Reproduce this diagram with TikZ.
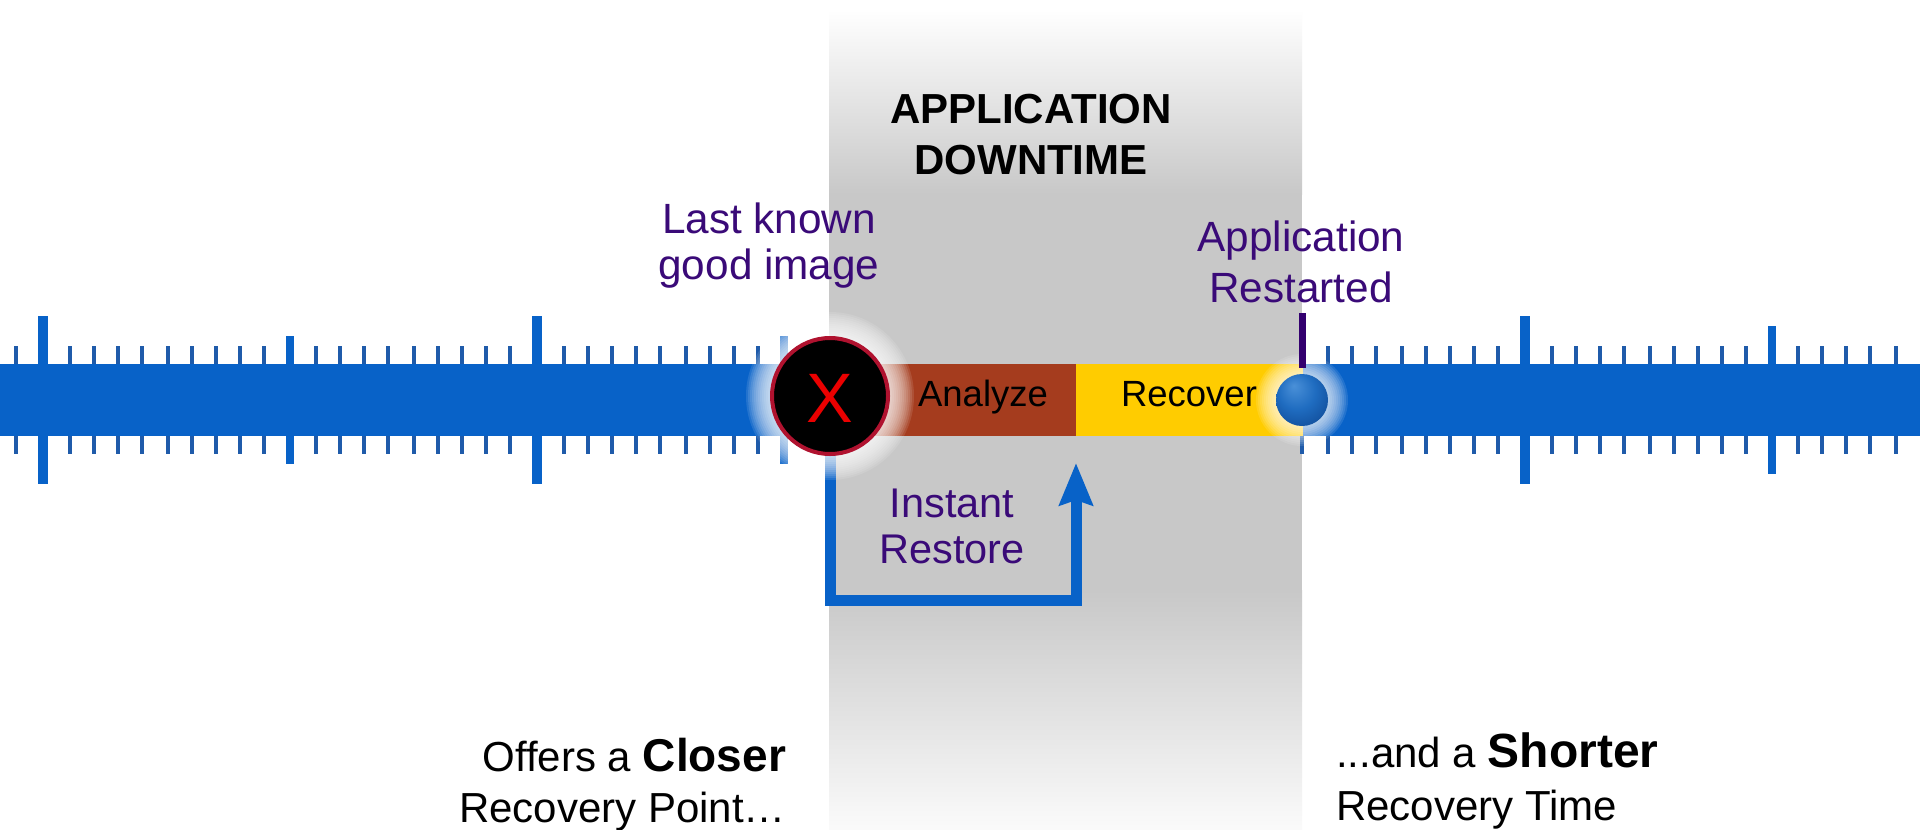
\documentclass[tikz,border=0pt]{standalone}
\usepackage{fontspec}
\setmainfont{Liberation Sans}
\usetikzlibrary{arrows.meta}
\definecolor{barblue}{HTML}{0862C8}
\definecolor{tickdark}{HTML}{1F5BAA}
\definecolor{plum}{HTML}{3A0A78}
\definecolor{plumbar}{HTML}{33006F}
\definecolor{rust}{HTML}{A53C1E}
\definecolor{amber}{HTML}{FFCC00}
\definecolor{bandgray}{HTML}{C8C8C8}
\definecolor{balllight}{HTML}{4A90D8}
\definecolor{ballmid}{HTML}{1F6CC0}
\definecolor{balldeep}{HTML}{0F4A96}
\definecolor{balldark}{HTML}{062A5E}
\definecolor{rim}{HTML}{B0122F}
\pgfdeclareradialshading{ballShade}{\pgfpoint{-8bp}{14bp}}{color(0bp)=(balllight);color(18bp)=(ballmid);color(36bp)=(balldeep);color(50bp)=(balldark)}
\tikzset{
  x=1pt,y=-1pt,
  txt/.style={inner sep=0pt,outer sep=0pt,anchor=base,align=center},
  plumtxt/.style={txt,text=plum,font=\fontsize{42.3}{51}\selectfont},
  blacktxt/.style={txt,text=black,font=\fontsize{36.5}{44}\selectfont},
  headtxt/.style={txt,text=black,font=\fontsize{42}{51}\selectfont\bfseries},
  bottomtxt/.style={txt,text=black,font=\fontsize{42}{51}\selectfont},
  segment/.style={draw=none,inner sep=0pt,outer sep=0pt},
  smalltick/.style={draw=tickdark,line width=4.6pt},
  midtick/.style={draw=barblue,line width=8pt},
  bigtick/.style={draw=barblue,line width=10pt},
  restoreline/.style={draw=barblue,line width=11pt,miter limit=10,-{Stealth[width=33pt,length=42pt,inset=5pt]}},
  glow/.style={white,opacity=0.11},
}
\begin{document}
\begin{tikzpicture}
\useasboundingbox (0,0) rectangle (1920,830);
\fill[white] (0,0) rectangle (1920,830);
% downtime band
\shade[top color=white,bottom color=bandgray] (829,10) rectangle (1302,194);
\fill[bandgray] (829,193) rectangle (1302,591);
\shade[top color=bandgray,bottom color=white!92!bandgray] (829,590) rectangle (1302,830);
% ticks
\foreach \t in {16,70,94,118,142,168,192,216,240,264,316,340,364,388,414,438,462,486,510,564,588,612,636,660,686,710,734,758,
  1328,1352,1376,1402,1426,1450,1474,1498,1552,1576,1600,1624,1650,1674,1698,1722,1746,1798,1822,1846,1870,1896}{
  \draw[smalltick] (\t,346) -- (\t,454);
}
\draw[smalltick] (1302,400) -- (1302,454);
\foreach \t in {290,784}{ \draw[midtick] (\t,336) -- (\t,464); }
\draw[midtick] (1772,326) -- (1772,474);
\foreach \t in {43,537,1525}{ \draw[bigtick] (\t,316) -- (\t,484); }
% bars
\fill[barblue] (0,364) rectangle (830,436);
\fill[barblue] (1302,364) rectangle (1920,436);
\node[segment,fill=rust,minimum width=246pt,minimum height=72pt,anchor=west] (analyzebar) at (830,400) {};
\node[segment,fill=amber,minimum width=227pt,minimum height=72pt,anchor=west] (recoverbar) at (1076,400) {};
% restore connector
\node[circle,inner sep=0pt,minimum size=120pt] (fail) at (830,396) {};
\coordinate (cornerL) at (830,600);
\coordinate (cornerR) at (1076,600);
\coordinate (tip) at (1076,463);
\draw[restoreline] (fail.center) -- (cornerL) -- (cornerR) -- (tip);
% halos
\foreach \r in {84,82,...,58}{ \fill[glow] (830,396) circle (\r); }
\foreach \r in {46,44,...,26}{ \fill[glow] (1302,400) circle (\r); }
% failure marker
\node[circle,draw=rim,line width=4pt,fill=black,inner sep=0pt,minimum size=116pt] (failmark) at (830,396) {};
\node[txt,text=red!92!black,font=\fontsize{70}{70}\selectfont] (xmark) at (830,422) {X};
% restart marker
\node[circle,shading=ballShade,inner sep=0pt,minimum size=52pt] (ball) at (1302,400) {};
\coordinate (pin) at (1302,313);
\draw[draw=plumbar,line width=7pt] (pin) -- (1302,368);
% labels
\node[blacktxt] (analyze) at (983,406) {Analyze};
\node[blacktxt] (recover) at (1189,406) {Recover};
\node[headtxt] (head) at (1031,174) {APPLICATION\\DOWNTIME};
\node[plumtxt,font=\fontsize{42.3}{46}\selectfont] (last) at (769,279) {Last known\\good image};
\node[plumtxt] (restarted) at (1301,302) {Application\\Restarted};
\node[plumtxt,font=\fontsize{41.5}{46}\selectfont] (instant) at (952,563) {Instant\\Restore};
\node[bottomtxt,align=right,anchor=base east] (closer) at (786,822) {Offers a {\fontsize{46}{51}\selectfont\bfseries Closer}\\Recovery Point…};
\node[bottomtxt,align=left,anchor=base west] (shorter) at (1336,820) {...and a {\fontsize{48}{51}\selectfont\bfseries Shorter}\\[2pt]Recovery Time};
\end{tikzpicture}
\end{document}
